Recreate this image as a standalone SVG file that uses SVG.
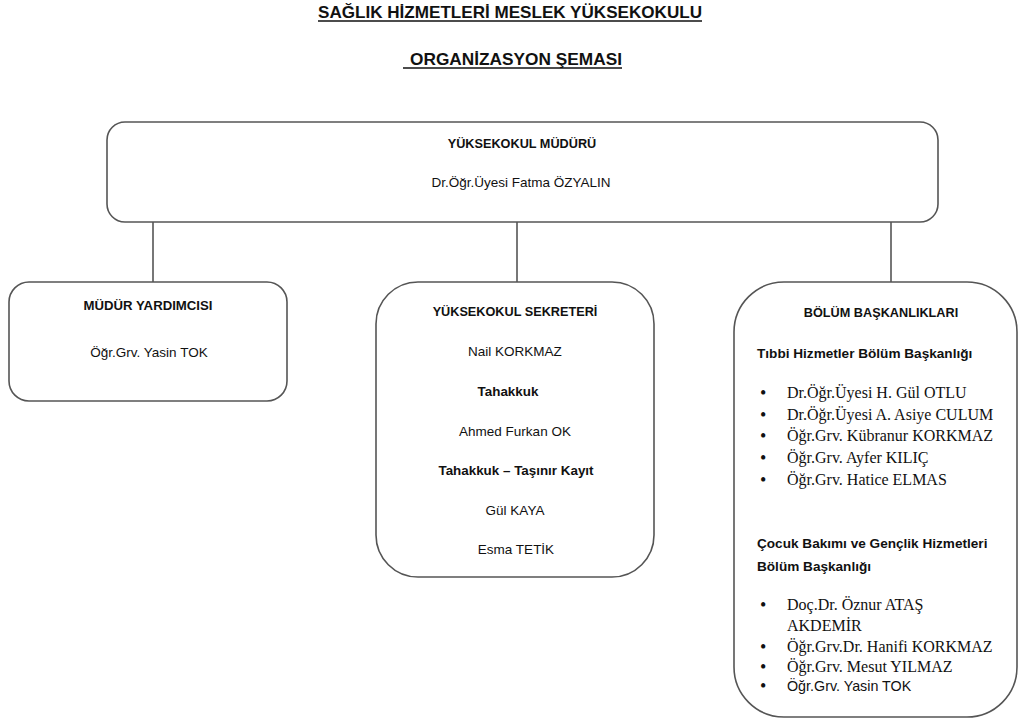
<svg xmlns="http://www.w3.org/2000/svg" width="1019" height="721" viewBox="0 0 1019 721">
<style>
.box{fill:#fff;stroke:#555;stroke-width:1.6}
.conn{stroke:#555;stroke-width:1.6;fill:none}
text{fill:#111}
.t{font-family:"Liberation Sans",Arial,sans-serif;font-weight:bold;font-size:16.5px;text-anchor:middle}
.h{font-family:"Liberation Sans",Arial,sans-serif;font-weight:bold;font-size:12.7px;text-anchor:middle}
.r{font-family:"Liberation Sans",Arial,sans-serif;font-size:13.5px;text-anchor:middle}
.hb{font-family:"Liberation Sans",Arial,sans-serif;font-weight:bold;font-size:13.6px}
.s{font-family:"Liberation Serif","Times New Roman",serif;font-size:16px}
.bl{font-family:"Liberation Serif","Times New Roman",serif;font-size:18px}
.ss{font-family:"Liberation Sans",Arial,sans-serif;font-size:14.3px}
.ul{stroke:#111;stroke-width:1.3}
</style>
<rect width="1019" height="721" fill="#fff"/>
<g id="title">
<text class="t" x="510" y="18" textLength="384" lengthAdjust="spacingAndGlyphs">SAĞLIK HİZMETLERİ MESLEK YÜKSEKOKULU</text>
<line class="ul" x1="318" y1="21" x2="702" y2="21"/>
<text class="t" x="516" y="65" textLength="212" lengthAdjust="spacingAndGlyphs">ORGANİZASYON ŞEMASI</text>
<line class="ul" x1="403" y1="68" x2="622" y2="68"/>
</g>
<g id="connectors">
<line class="conn" x1="153" y1="222" x2="153" y2="282"/>
<line class="conn" x1="517" y1="222" x2="517" y2="282"/>
<line class="conn" x1="891" y1="222" x2="891" y2="282"/>
</g>
<g id="mudur">
<rect class="box" x="107" y="122" width="831" height="100" rx="18"/>
<text class="h" x="522" y="148">YÜKSEKOKUL MÜDÜRÜ</text>
<text class="r" x="521" y="187">Dr.Öğr.Üyesi Fatma ÖZYALIN</text>
</g>
<g id="yardimci">
<rect class="box" x="9" y="282" width="278" height="119" rx="20"/>
<text class="h" x="148" y="310" style="font-size:13.2px">MÜDÜR YARDIMCISI</text>
<text class="r" x="149" y="357">Öğr.Grv. Yasin TOK</text>
</g>
<g id="sekreter">
<rect class="box" x="376" y="282" width="278" height="295" rx="42"/>
<text class="h" x="515" y="316">YÜKSEKOKUL SEKRETERİ</text>
<text class="r" x="515" y="356">Nail KORKMAZ</text>
<text class="h" x="508" y="396" style="font-size:13.4px">Tahakkuk</text>
<text class="r" x="515" y="436">Ahmed Furkan OK</text>
<text class="h" x="516" y="475" style="font-size:13.4px">Tahakkuk – Taşınır Kayıt</text>
<text class="r" x="515" y="515">Gül KAYA</text>
<text class="r" x="516" y="554">Esma TETİK</text>
</g>
<g id="bolum">
<rect class="box" x="734" y="282" width="283" height="435" rx="50"/>
<text class="h" x="881" y="317">BÖLÜM BAŞKANLIKLARI</text>
<text class="hb" x="757" y="358">Tıbbi Hizmetler Bölüm Başkanlığı</text>
<g class="bl">
<text x="760" y="399">•</text>
<text x="760" y="421">•</text>
<text x="760" y="442">•</text>
<text x="760" y="464">•</text>
<text x="760" y="486">•</text>
<text x="760" y="611">•</text>
<text x="760" y="653">•</text>
<text x="760" y="673">•</text>
<text x="760" y="692">•</text>
</g>
<g class="s">
<text x="787" y="398">Dr.Öğr.Üyesi H. Gül OTLU</text>
<text x="787" y="420">Dr.Öğr.Üyesi A. Asiye CULUM</text>
<text x="787" y="441">Öğr.Grv. Kübranur KORKMAZ</text>
<text x="787" y="463">Öğr.Grv. Ayfer KILIÇ</text>
<text x="787" y="485">Öğr.Grv. Hatice ELMAS</text>
</g>
<text class="hb" x="757" y="548">Çocuk Bakımı ve Gençlik Hizmetleri</text>
<text class="hb" x="757" y="571">Bölüm Başkanlığı</text>
<g class="s">
<text x="787" y="610">Doç.Dr. Öznur ATAŞ</text>
<text x="787" y="631">AKDEMİR</text>
<text x="787" y="652">Öğr.Grv.Dr. Hanifi KORKMAZ</text>
<text x="787" y="672">Öğr.Grv. Mesut YILMAZ</text>
</g>
<text class="ss" x="787" y="691">Öğr.Grv. Yasin TOK</text>
</g>
</svg>
